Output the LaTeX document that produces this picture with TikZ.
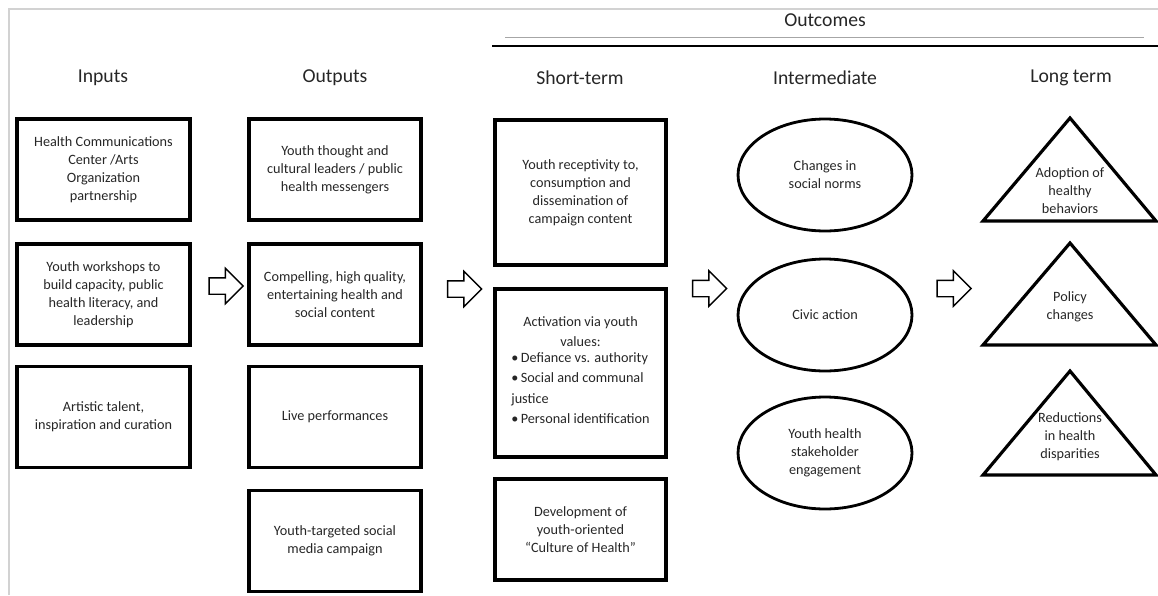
\documentclass[tikz,border=0pt]{standalone}
\usepackage{fontspec}
\setmainfont{Carlito}
\usetikzlibrary{shapes.geometric,shapes.arrows}

\begin{document}
\begin{tikzpicture}[
    x=0.02cm, y=-0.02cm,
    txt/.style={font=\fontsize{8.1}{10.2}\selectfont, text=black!85, align=center},
    head/.style={font=\fontsize{11.2}{13}\selectfont, text=black!85},
    box/.style={txt, draw, line width=2pt, minimum width=3.46cm, minimum height=2.02cm, inner sep=2pt},
    oval/.style={txt, ellipse, draw, line width=1.6pt, minimum width=3.48cm, minimum height=2.24cm, inner sep=0pt},
    tri/.style={line width=1.8pt, line join=miter},
    bigarr/.style={single arrow, draw, line width=0.8pt, minimum height=0.68cm, inner sep=0.15cm, single arrow head extend=0.19cm},
]
\useasboundingbox (0,0) rectangle (1158,595);
\draw[gray!35, line width=0.6pt] (9,595) -- (9,9) -- (1158,9);

% column heads
\node[head] (hOC) at (825,20) {Outcomes};
\draw[gray!70, line width=0.5pt] (505,37) -- (1144,37);
\draw[line width=1.2pt] (492,46) -- (1158,46);
\node[head] (hIn) at (103,78) {Inputs};
\node[head] (hOut) at (335,78) {Outputs};
\node[head] (hST) at (580,78) {Short-term};
\node[head] (hIM) at (825,78) {Intermediate};
\node[head] (hLT) at (1071,78) {Long term};

% inputs
\node[box] (inp1) at (103.5,169.5) {Health Communications\\Center /Arts\\Organization\\partnership};
\node[box] (inp2) at (103.5,294.5) {Youth workshops to\\build capacity, public\\health literacy, and\\leadership};
\node[box] (inp3) at (103.5,417) {Artistic talent,\\inspiration and curation};

% outputs
\node[box, minimum width=3.44cm] (out1) at (335,169.5) {Youth thought and\\cultural leaders / public\\health messengers};
\node[box, minimum width=3.44cm] (out2) at (335,294.5) {Compelling, high quality,\\entertaining health and\\social content};
\node[box, minimum width=3.44cm] (out3) at (335,417) {Live performances};
\node[box, minimum width=3.44cm] (out4) at (335,541) {Youth-targeted social\\media campaign};

% short-term
\node[box, minimum width=3.42cm, minimum height=2.9cm] (st1) at (580.5,192.5) {Youth receptivity to,\\consumption and\\dissemination of\\campaign content};
\node[box, minimum width=3.42cm, minimum height=3.36cm, font=\fontsize{8.1}{11.6}\selectfont] (st2) at (580.5,373) {Activation via youth\\values:\\\begin{tabular}{@{}l@{}}\textbullet\,Defiance vs. authority\\\textbullet\,Social and communal\\justice\\\textbullet\,Personal identification\end{tabular}};
\node[box, minimum width=3.42cm] (st3) at (580.5,529.5) {Development of\\youth-oriented\\“Culture of Health”};

% intermediate
\node[oval] (mid1) at (825,175) {Changes in\\social norms};
\node[oval] (mid2) at (825,315) {Civic action};
\node[oval] (mid3) at (825,453) {Youth health\\stakeholder\\engagement};

% long term
\draw[tri] (1070,118) -- (1156,221) -- (983,221) -- cycle;
\node[txt] (lt1) at (1070,191) {Adoption of\\healthy\\behaviors};
\draw[tri] (1070,243) -- (1156,345) -- (983,345) -- cycle;
\node[txt] (lt2) at (1070,307) {Policy\\changes};
\draw[tri] (1070,371) -- (1156,475) -- (983,475) -- cycle;
\node[txt] (lt3) at (1070,437) {Reductions\\in health\\disparities};

% block arrows
\node[bigarr] (arrIO) at (222,286) {};
\node[bigarr] (arrOS) at (460.5,289) {};
\node[bigarr] (arrSI) at (705.5,288.5) {};
\node[bigarr] (arrIL) at (950,288.5) {};
\end{tikzpicture}
\end{document}
